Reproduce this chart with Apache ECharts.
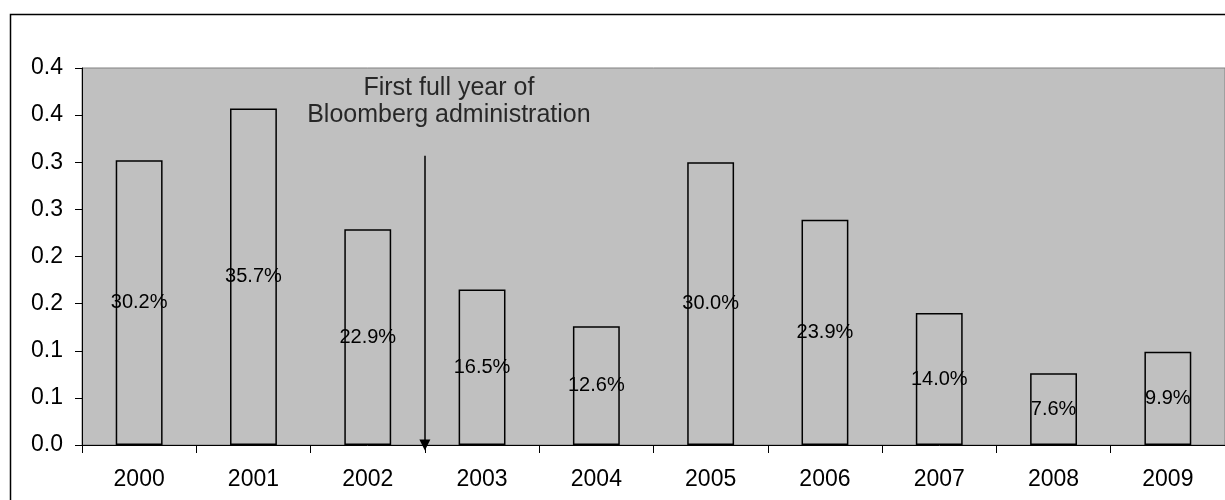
<!DOCTYPE html>
<html>
<head>
<meta charset="utf-8">
<script src="https://cdn.jsdelivr.net/npm/echarts@6/dist/echarts.min.js"></script>
<style>html,body{margin:0;padding:0;background:#fff}#c{width:1225px;height:500px}</style>
</head>
<body>
<div id="c"></div>
<script>
const categories = ['2000','2001','2002','2003','2004','2005','2006','2007','2008','2009'];
const values = [0.302, 0.357, 0.229, 0.165, 0.126, 0.300, 0.239, 0.140, 0.076, 0.099];
const yTickLabels = ['0.0','0.1','0.1','0.2','0.2','0.3','0.3','0.4','0.4'];
const annotationText = 'First full year of\nBloomberg administration';
const arrowX = 2.5;       // between 2002 and 2003
const arrowTop = 0.307;
const annotationPos = [2.71, 0.364];

const chart = echarts.init(document.getElementById('c'), null, {renderer: 'canvas'});
const font = 'Liberation Sans, Arial, sans-serif';
chart.setOption({
  animation: false,
  textStyle: {fontFamily: font},
  graphic: [{
    type: 'rect', left: 8, top: 12, z: 100, silent: true,
    shape: {width: 1400, height: 700},
    style: {fill: 'none', stroke: '#000', lineWidth: 1.5}
  }],
  grid: {left: 82, top: 68, bottom: 55, right: -12, show: true, backgroundColor: '#C0C0C0',
    borderWidth: 1, borderColor: '#808080'},
  xAxis: [{
    type: 'category', data: categories,
    axisLine: {lineStyle: {color: '#000', width: 1}},
    axisTick: {show: true, length: 8, interval: 0, lineStyle: {color: '#000'}},
    axisLabel: {color: '#000', fontSize: 23, margin: 23, fontFamily: font},
    splitLine: {show: false}
  }, {
    type: 'value', min: -0.5, max: 9.5, show: false
  }],
  yAxis: {
    type: 'value', min: 0, max: 0.4, interval: 0.05,
    axisLine: {show: true, onZero: false, lineStyle: {color: '#000'}},
    axisTick: {show: true, length: 7, lineStyle: {color: '#000'}},
    axisLabel: {color: '#000', fontSize: 23, margin: 19, fontFamily: font,
      formatter: v => yTickLabels[Math.round(v / 0.05)]},
    splitLine: {show: false}
  },
  series: [{
    type: 'bar', data: values, barWidth: '41%',
    itemStyle: {color: 'rgba(0,0,0,0)', borderColor: '#000', borderWidth: 1.5},
    label: {show: true, position: 'inside', color: '#000', fontSize: 20, fontFamily: font,
      formatter: p => (p.value * 100).toFixed(1) + '%'}
  }, {
    type: 'scatter', xAxisIndex: 1, symbolSize: 0,
    data: [annotationPos],
    label: {show: true, position: 'inside', formatter: annotationText, color: '#000',
      fontSize: 25, lineHeight: 27, align: 'center', fontFamily: font},
    markLine: {
      silent: true, symbol: ['none', 'triangle'], symbolSize: [11, 11], symbolRotate: 180,
      label: {show: false},
      lineStyle: {color: '#000', width: 1.5, type: 'solid'},
      data: [[{coord: [arrowX, arrowTop]}, {coord: [arrowX, 0]}]]
    }
  }]
});
</script>
</body>
</html>
